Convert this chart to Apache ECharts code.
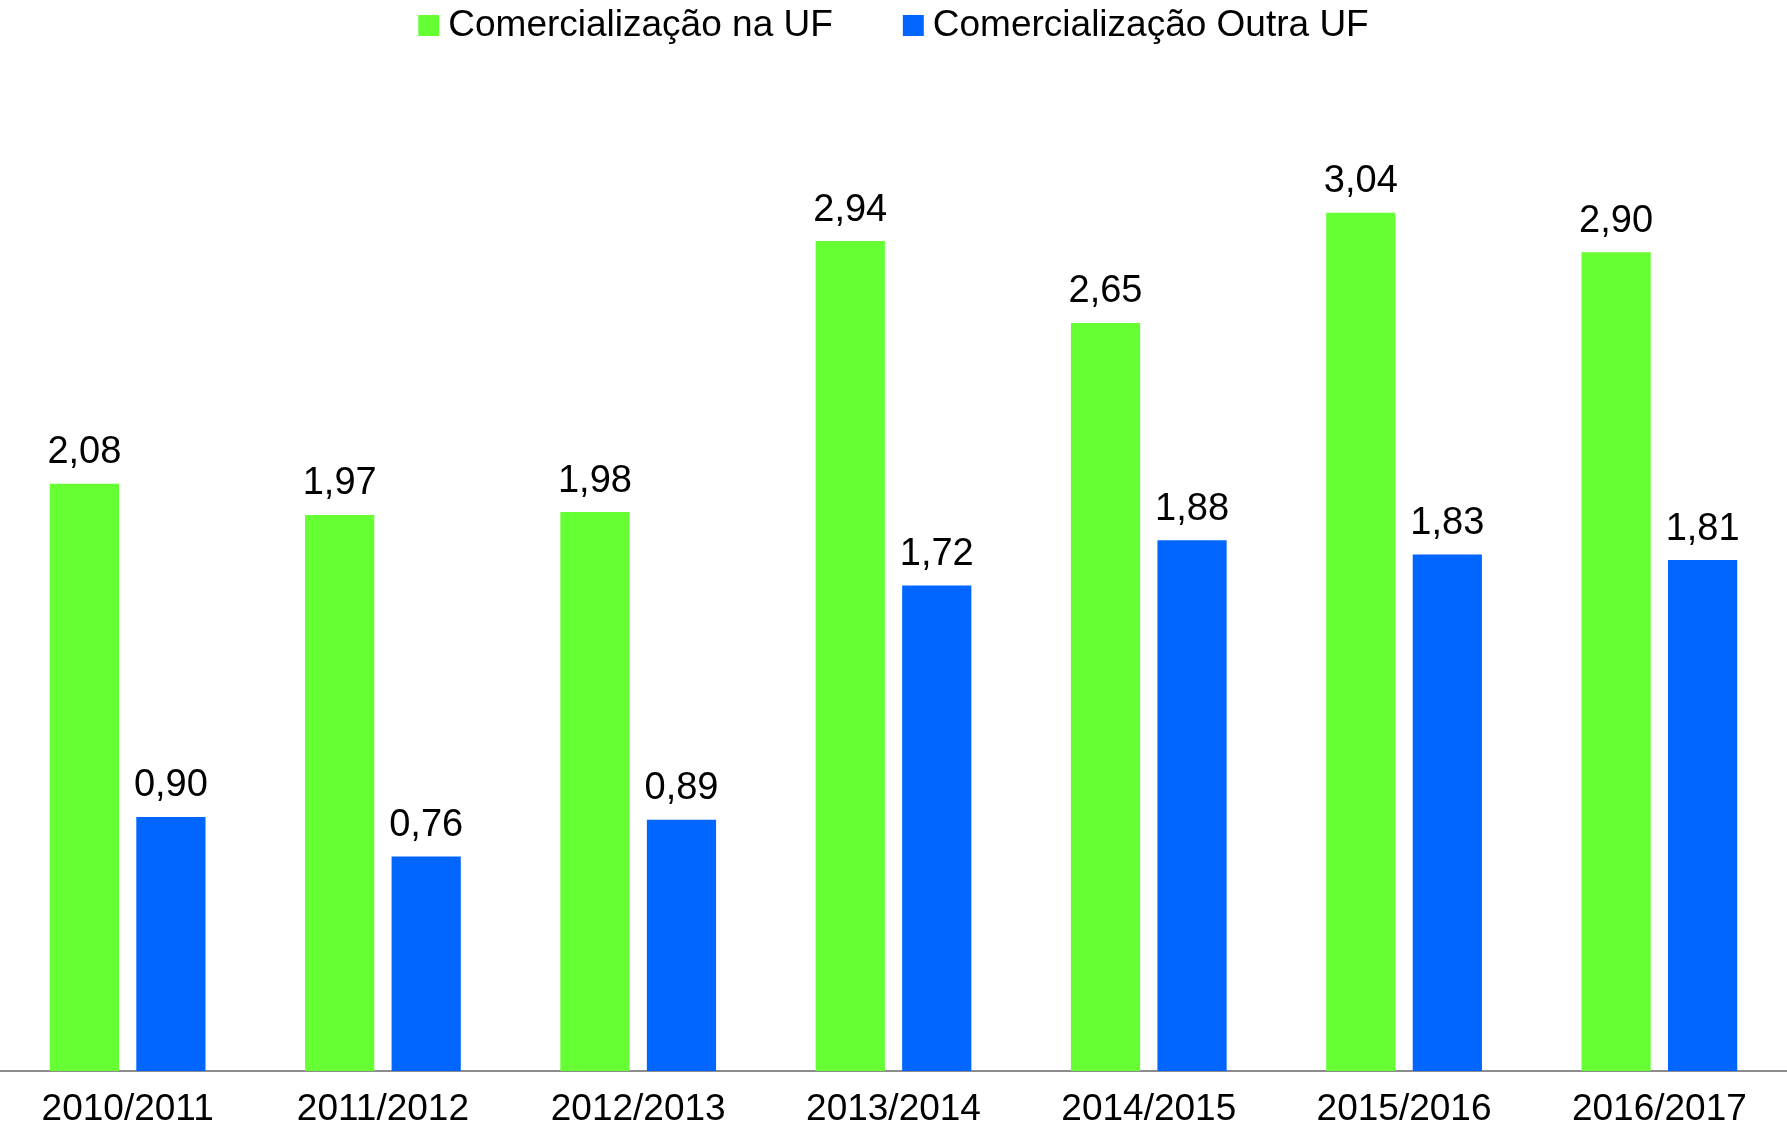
<!DOCTYPE html>
<html>
<head>
<meta charset="utf-8">
<script src="https://cdn.jsdelivr.net/npm/echarts@6/dist/echarts.min.js"></script>
<style>
  html, body { margin: 0; padding: 0; background: #fff; }
  #chart { width: 1787px; height: 1131px; }
</style>
</head>
<body>
<div id="chart"></div>
<script>
var categories = ["2010/2011", "2011/2012", "2012/2013", "2013/2014", "2014/2015", "2015/2016", "2016/2017"];
var naUF = [2.08, 1.97, 1.98, 2.94, 2.65, 3.04, 2.90];
var outraUF = [0.90, 0.76, 0.89, 1.72, 1.88, 1.83, 1.81];
var seriesNames = ["Comercialização na UF", "Comercialização Outra UF"];

var font = "'Liberation Sans Narrow', 'Arial Narrow', 'Liberation Sans', sans-serif";

var chart = echarts.init(document.getElementById("chart"));

// rótulo com vírgula decimal
function fmt(p) {
  return p.value.toFixed(2).replace(".", ",");
}

var option = {
  animation: false,
  legend: {
    top: 2,
    left: "center",
    itemWidth: 21,
    itemHeight: 21,
    itemGap: 70,
    icon: "rect",
    textStyle: { fontFamily: font, fontSize: 37, color: "#000", padding: [0, 0, 0, 4] },
    data: seriesNames
  },
  grid: {
    left: 0,
    right: 0,
    top: 83,
    bottom: 60,
    containLabel: false
  },
  xAxis: {
    type: "category",
    data: categories,
    axisTick: { show: false },
    axisLine: { lineStyle: { color: "#8c8c8c", width: 2 } },
    axisLabel: { interval: 0, fontFamily: font, fontSize: 37, color: "#000", margin: 20 }
  },
  yAxis: {
    type: "value",
    min: 0,
    max: 3.5,
    show: false,
    splitLine: { show: false }
  },
  series: [
    {
      name: seriesNames[0],
      type: "bar",
      data: naUF,
      barGap: "25%",
      barCategoryGap: "39%",
      itemStyle: { color: "#66ff33" },
      label: { show: true, position: "top", distance: 12, formatter: fmt,
        fontFamily: font, fontSize: 38, color: "#000" }
    },
    {
      name: seriesNames[1],
      type: "bar",
      data: outraUF,
      itemStyle: { color: "#0066ff" },
      label: { show: true, position: "top", distance: 12, formatter: fmt,
        fontFamily: font, fontSize: 38, color: "#000" }
    }
  ]
};

chart.setOption(option);
</script>
</body>
</html>
